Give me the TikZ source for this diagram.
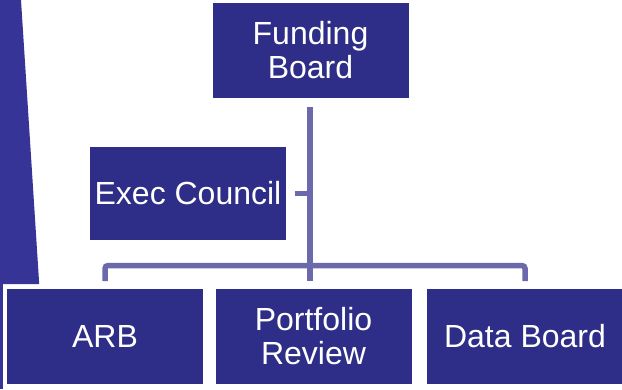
\documentclass[tikz,border=0pt]{standalone}
\usepackage{fontspec}
\setmainfont{Liberation Sans}
\usepackage{tikz}
\definecolor{boxblue}{RGB}{46,45,135}
\definecolor{sideblue}{RGB}{55,52,152}
\definecolor{linkblue}{RGB}{107,105,172}
\tikzset{
  box/.style={draw=white, line width=4pt, fill=boxblue, text=white, align=center,
    inner sep=0pt, minimum width=200pt, minimum height=99pt,
    font=\fontsize{32}{34}\selectfont},
  link/.style={draw=linkblue, line width=5.5pt}
}

\begin{document}
\begin{tikzpicture}[x=1pt, y=-1pt]
\useasboundingbox (0,0) rectangle (622,389);

\fill[sideblue] (0,0) -- (21,0) -- (39.2,284) -- (0,284) -- cycle;
\fill[sideblue] (0,284) rectangle (2.5,389);

\node[box] (fund) at (310.5,50.5) {Funding\\Board};
\node[box, minimum height=97pt] (exec) at (188,193.5) {Exec Council};
\node[box] (arb) at (105,336.5) {ARB};
\node[box] (port) at (313.5,336.5) {Portfolio\\Review};
\node[box] (data) at (525,336.5) {Data Board};

\coordinate (bar) at (310,265.5);

\draw[link, shorten <=5pt] (bar |- fund.south) -- (bar);
\draw[link, shorten <=5pt] (exec.east) -- (exec.east -| bar);
\draw[link, rounded corners=3pt, shorten <=4pt, shorten >=4pt]
  (arb.north) |- (bar) -| (data.north);
\draw[link, shorten >=4pt] (bar) -- (bar |- port.north);

\end{tikzpicture}
\end{document}
